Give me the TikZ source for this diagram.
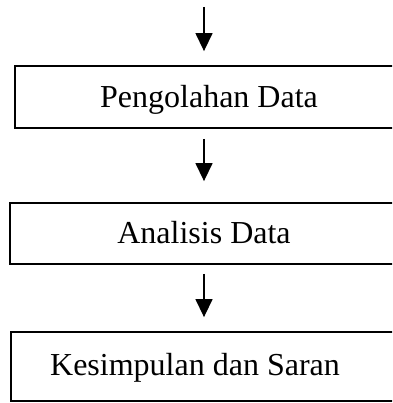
\documentclass[tikz,border=0pt]{standalone}
\usepackage{fontspec}
\setmainfont{Liberation Serif}
\usetikzlibrary{arrows.meta}
\begin{document}
\begin{tikzpicture}[x=1pt,y=1pt,
  box/.style={draw=black, line width=1.8pt, inner sep=0pt},
  lbl/.style={font=\fontsize{32}{37}\selectfont, inner sep=0pt, anchor=base},
  arr/.style={line width=1.4pt, -{Triangle[length=18pt,width=17pt]}}]
\useasboundingbox (0,0) rectangle (392,-403);
\clip (0,0) rectangle (392,-403);
\fill[white] (0,0) rectangle (392,-403);
\node[box, minimum width=382pt, minimum height=62pt] (b1) at (206,-97) {};
\node[box, minimum width=387pt, minimum height=61pt] (b2) at (203.5,-233.5) {};
\node[box, minimum width=386pt, minimum height=69pt] (b3) at (204,-366.5) {};
\node[lbl] (t1) at (209,-107.5) {Pengolahan Data};
\node[lbl] (t2) at (204,-243) {Analisis Data};
\node[lbl] (t3) at (195,-375) {Kesimpulan dan Saran};
\coordinate (top) at (204,-7);
\draw[arr, shorten >=14pt] (top) -- (b1.north -| top);
\draw[arr, shorten <=10pt, shorten >=21pt] (b1.south -| top) -- (b2.north -| top);
\draw[arr, shorten <=9pt, shorten >=14pt] (b2.south -| top) -- (b3.north -| top);
\end{tikzpicture}
\end{document}
